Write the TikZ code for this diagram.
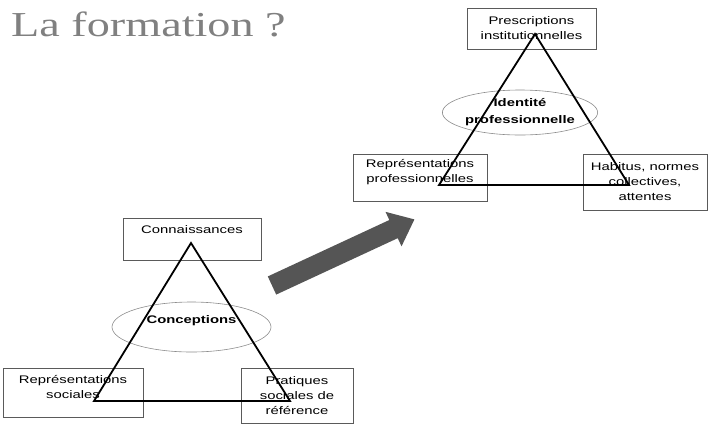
\documentclass[tikz,border=0pt]{standalone}
\usepackage{fontspec}
\setmainfont{Liberation Sans}
\newfontfamily\diagfont[FakeStretch=1.35]{Liberation Sans}
\newfontfamily\titlefont[FakeStretch=1.32]{Liberation Serif}
\usetikzlibrary{shapes.geometric}
\definecolor{titlegray}{RGB}{128,128,128}
\definecolor{arrowgray}{RGB}{85,85,85}
\definecolor{boxgray}{RGB}{90,90,90}
\definecolor{ellgray}{RGB}{140,140,140}

\begin{document}
\begin{tikzpicture}[x=1pt, y=-1pt]
	\tikzset{box/.style = {draw=boxgray, line width=0.6pt, rectangle, align=center, inner sep=0pt, font=\diagfont\fontsize{11}{15}\selectfont},
		bubble/.style = {draw=ellgray, line width=0.6pt, ellipse, align=center, inner sep=0pt, font=\diagfont\fontsize{11}{17}\selectfont\bfseries},
		side/.style = {line width=1.8pt}}
	\useasboundingbox (0,0) rectangle (708,424);
	
	\node[anchor=base west, inner sep=0pt, text=titlegray, font=\titlefont\fontsize{35}{40}\selectfont] (title) at (11,36) {La formation ?};
	
	% avant
	\node[box, minimum width=138pt, minimum height=42pt, text height=15pt, text depth=27pt] (conn) at (192,239) {Connaissances};
	\node[box, minimum width=140pt, minimum height=49pt, text height=30pt, text depth=19pt] (repsoc) at (73,392.5) {Représentations\\sociales};
	\node[box, minimum width=112pt, minimum height=55pt] (prat) at (297,395.5) {Pratiques\\sociales de\\référence};
	\node[bubble, minimum width=159pt, minimum height=50pt, text height=8pt, text depth=16pt] (concep) at (191.5,327) {Conceptions};
	
	\coordinate (cTop) at (191,243);
	\coordinate (cLeft) at (94,401);
	\coordinate (cRight) at (290,401);
	\draw[side] (cTop) -- (cLeft) -- (cRight) -- cycle;
	
	% apres
	\node[box, minimum width=129pt, minimum height=41pt] (presc) at (531.5,28.5) {Prescriptions\\institutionnelles};
	\node[box, minimum width=134pt, minimum height=47pt, text height=28pt, text depth=19pt] (reppro) at (420,177.5) {Représentations\\professionnelles};
	\node[box, minimum width=124pt, minimum height=56pt] (habit) at (645,182) {Habitus, normes\\collectives,\\attentes};
	\node[bubble, minimum width=150pt, minimum height=45pt] (ident) at (520,112.5) {Identité\\professionnelle};
	
	\coordinate (pTop) at (535,34);
	\coordinate (pLeft) at (439,185);
	\coordinate (pRight) at (629,185);
	\draw[side] (pTop) -- (pLeft) -- (pRight) -- cycle;
	
	% grosse fleche
	\begin{scope}[shift={(272,285.5)}, rotate=24.9]
		\fill[arrowgray] (0,-10) -- (134,-10) -- (134,-19) -- (157,0) -- (134,19) -- (134,10) -- (0,10) -- cycle;
	\end{scope}
	
\end{tikzpicture}
\end{document}
